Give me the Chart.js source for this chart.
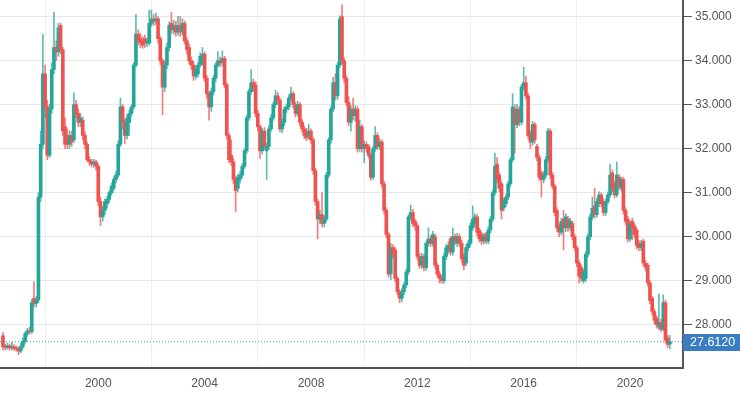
<!DOCTYPE html>
<html><head><meta charset="utf-8">
<script src="https://cdn.jsdelivr.net/npm/chart.js@4.4.0/dist/chart.umd.min.js"></script>
<style>html,body{margin:0;padding:0;background:#fff;overflow:hidden}#wrap{width:740px;height:394px;position:relative}</style>
</head><body><div id="wrap"><canvas id="c" width="740" height="394"></canvas></div>
<script>
// Monthly candles, first candle = June 1996
const firstMonth = { year: 1996, month: 6 };

const openP = [
  27.75,27.50,27.48,27.52,27.47,27.50,27.46,27.45,27.40,27.50,27.62,27.80,
  27.86,27.84,28.60,28.48,28.56,30.90,32.10,33.70,32.95,31.85,32.90,33.80,
  34.30,34.20,34.80,34.25,32.50,32.30,32.10,32.30,32.20,33.00,32.80,32.60,
  32.65,32.30,32.10,31.75,31.70,31.65,31.70,31.60,30.80,30.45,30.60,30.75,
  30.85,31.00,31.10,31.30,31.40,32.10,32.95,32.60,32.30,32.60,32.80,32.95,
  33.90,34.60,34.50,34.45,34.50,34.40,34.40,34.85,34.95,34.90,34.95,34.50,
  34.00,33.40,33.90,34.30,34.85,34.70,34.80,34.65,34.80,34.65,34.85,34.45,
  34.30,34.00,33.90,33.65,33.70,33.90,33.95,34.15,33.60,33.25,32.95,33.30,
  33.60,33.90,34.00,33.95,34.05,33.45,32.30,31.85,31.70,31.30,31.10,31.30,
  31.40,31.60,31.95,32.70,33.30,33.50,33.45,32.80,32.50,31.95,32.40,31.95,
  32.05,32.45,32.70,33.00,33.20,33.10,32.45,32.60,32.90,32.95,33.15,33.25,
  33.00,32.80,33.00,32.60,32.45,32.40,32.30,32.40,32.20,31.50,30.80,30.40,
  30.50,30.30,30.40,31.40,32.20,32.90,33.50,33.20,33.90,35.00,34.00,33.60,
  33.05,32.60,32.90,32.75,32.90,32.00,32.50,32.00,32.10,32.05,31.85,31.35,
  32.00,32.30,32.05,32.15,31.20,30.60,30.05,29.15,29.75,29.70,29.05,28.75,
  28.60,28.75,28.90,29.20,30.45,30.55,30.35,30.25,29.55,29.35,29.55,29.30,
  29.85,29.95,29.85,30.00,29.35,29.15,29.05,29.00,29.55,29.70,29.95,29.65,
  30.00,29.85,30.00,29.85,29.55,29.40,29.75,29.85,30.20,30.30,30.45,30.15,
  30.05,29.90,30.05,29.90,30.15,30.40,31.00,31.65,31.40,31.20,30.65,30.75,
  30.90,31.20,31.75,32.90,32.55,32.90,32.60,33.40,33.50,33.20,32.35,32.15,
  32.55,32.05,31.80,31.45,31.30,31.40,31.75,32.40,31.40,31.15,30.60,30.25,
  30.10,30.40,30.20,30.40,30.20,30.30,30.00,29.75,29.40,29.30,29.00,29.05,
  29.60,30.00,30.45,30.70,30.50,30.75,30.95,30.80,30.55,30.80,30.95,31.45,
  31.20,30.95,31.35,31.10,31.30,30.60,30.40,29.95,30.35,30.25,30.15,29.85,
  29.75,29.90,29.40,29.35,28.95,28.60,28.30,28.15,27.95,28.05,27.90,28.50,
  27.70,27.56
];
const highP = [
  27.82,27.56,27.58,27.56,27.60,27.55,27.52,27.50,27.58,27.70,27.84,27.92,
  27.95,28.58,28.98,28.64,31.00,32.40,34.60,33.90,33.10,33.00,33.95,35.10,
  34.45,34.85,34.85,34.30,32.70,32.45,32.40,32.40,33.27,33.10,32.90,32.80,
  32.72,32.38,32.15,31.82,31.76,31.76,31.74,31.65,30.90,30.70,30.86,30.92,
  31.05,31.22,31.36,31.48,32.18,33.15,33.00,32.66,32.78,32.88,33.00,33.96,
  35.05,34.70,34.62,34.55,34.58,34.52,35.15,35.15,35.05,35.08,35.00,34.55,
  34.05,34.00,34.40,34.88,35.10,34.92,34.90,35.00,35.00,34.95,34.90,34.52,
  34.38,34.08,33.98,33.88,33.96,34.18,34.30,34.20,33.66,33.30,33.38,33.66,
  33.96,34.20,34.08,34.22,34.10,33.50,32.35,32.20,31.78,31.38,31.42,31.48,
  31.66,32.00,32.76,33.36,33.80,33.58,33.52,32.88,32.55,32.46,32.48,32.12,
  32.52,32.78,33.06,33.33,33.28,33.15,32.68,32.96,33.02,33.22,33.40,33.30,
  33.06,33.08,33.05,32.66,32.52,32.46,32.55,32.45,32.25,31.56,30.86,30.60,
  31.00,30.48,31.46,32.26,32.96,33.62,33.70,33.96,35.02,35.27,34.06,33.66,
  33.18,32.98,33.15,32.98,32.96,32.65,32.55,32.18,32.16,32.10,31.90,32.06,
  32.50,32.36,32.22,32.20,31.25,30.66,30.10,29.85,29.82,29.76,29.10,28.80,
  28.82,28.96,29.26,30.50,30.72,30.62,30.40,30.30,29.62,29.62,29.60,29.90,
  30.20,30.02,30.12,30.06,29.40,29.22,29.12,29.62,29.82,29.88,30.00,30.20,
  30.06,30.08,30.06,29.92,29.62,29.82,29.92,30.32,30.70,30.52,30.50,30.20,
  30.10,30.08,30.10,30.22,30.46,31.06,31.90,31.80,31.46,31.25,30.88,30.96,
  31.26,31.80,33.25,33.00,33.00,32.96,33.46,33.85,33.65,33.26,32.40,32.62,
  32.60,32.10,31.86,31.50,31.48,31.82,32.46,32.45,31.46,31.20,30.66,30.30,
  30.42,30.60,30.52,30.46,30.42,30.36,30.06,29.80,29.46,29.36,29.26,29.66,
  30.06,30.52,30.90,31.10,30.88,31.02,31.00,30.86,30.86,31.02,31.65,31.52,
  31.25,31.70,31.42,31.36,31.35,30.66,30.46,30.36,30.42,30.30,30.20,29.92,
  29.92,29.95,29.46,29.40,29.00,28.65,28.36,28.20,28.70,28.12,28.68,28.56,
  27.76,27.75
];
const lowP = [
  27.42,27.42,27.44,27.42,27.43,27.41,27.40,27.32,27.36,27.46,27.58,27.74,
  27.78,27.80,28.40,28.40,28.50,30.80,32.00,32.70,31.75,31.80,32.80,33.70,
  34.00,34.10,34.15,32.30,32.00,32.00,32.00,32.05,32.15,32.70,32.50,32.50,
  32.20,32.00,31.70,31.62,31.58,31.58,31.52,30.70,30.25,30.35,30.50,30.65,
  30.78,30.95,31.05,31.22,31.35,32.05,32.45,32.12,32.22,32.30,32.74,32.90,
  33.85,34.35,34.30,34.28,34.30,34.32,34.35,34.78,34.80,34.82,34.40,33.90,
  32.77,33.30,33.82,34.22,34.62,34.60,34.55,34.58,34.55,34.58,34.38,34.15,
  33.92,33.80,33.55,33.58,33.62,33.85,33.90,33.52,33.15,32.65,32.85,33.22,
  33.52,33.85,33.86,33.88,33.38,32.22,31.68,31.62,31.20,30.57,31.02,31.22,
  31.34,31.55,31.90,32.64,33.24,33.30,32.72,32.40,31.78,31.88,31.98,31.30,
  31.98,32.40,32.64,32.94,33.02,32.38,32.36,32.52,32.82,32.88,33.08,32.92,
  32.72,32.74,32.52,32.38,32.22,32.18,32.22,32.12,31.42,30.72,29.95,30.30,
  30.22,30.22,30.35,31.34,32.12,32.84,33.10,33.12,33.84,33.92,33.50,32.98,
  32.52,32.40,32.66,32.62,31.92,31.94,31.92,31.68,31.92,31.78,31.28,31.30,
  31.94,31.98,31.98,31.12,30.52,29.98,29.08,29.02,29.50,28.98,28.68,28.50,
  28.52,28.68,28.84,29.14,30.38,30.22,30.15,29.48,29.28,29.28,29.22,29.24,
  29.78,29.78,29.78,29.28,29.08,28.95,28.94,28.94,29.48,29.62,29.58,29.58,
  29.82,29.78,29.78,29.42,29.25,29.34,29.68,29.80,30.14,30.24,30.02,29.88,
  29.82,29.84,29.84,29.84,30.08,30.34,30.94,31.22,31.02,30.40,30.58,30.68,
  30.84,31.14,31.70,31.90,32.48,32.52,32.54,33.34,33.12,32.22,32.00,32.08,
  32.12,31.72,31.28,30.90,31.22,31.34,31.70,31.32,31.08,30.48,30.12,30.00,
  30.04,29.70,30.12,30.12,30.14,29.92,29.68,29.32,28.95,28.98,28.94,28.98,
  29.54,29.94,30.38,30.42,30.44,30.68,30.68,30.48,30.48,30.74,30.90,31.02,
  30.88,30.90,31.08,31.04,30.52,30.28,29.88,29.90,29.93,29.98,29.72,29.68,
  29.68,29.34,29.22,28.88,28.48,28.22,28.02,27.92,27.88,27.84,27.86,27.58,
  27.48,27.45
];
const closeP = [
  27.50,27.48,27.52,27.47,27.50,27.46,27.45,27.40,27.50,27.62,27.80,27.86,
  27.84,28.50,28.48,28.56,30.90,32.10,33.70,32.95,31.85,32.90,33.80,34.30,
  34.20,34.75,34.25,32.40,32.10,32.10,32.30,32.15,33.00,32.80,32.60,32.70,
  32.30,32.10,31.75,31.70,31.65,31.70,31.60,30.80,30.45,30.60,30.80,30.85,
  31.00,31.15,31.30,31.40,32.10,32.95,32.60,32.30,32.70,32.80,32.95,33.90,
  34.60,34.45,34.40,34.35,34.40,34.45,34.85,34.95,34.90,34.95,34.50,34.00,
  33.40,33.90,34.30,34.80,34.70,34.80,34.65,34.80,34.65,34.85,34.45,34.25,
  34.00,33.90,33.65,33.80,33.90,34.10,34.15,33.60,33.25,32.95,33.30,33.60,
  33.90,34.00,33.95,34.05,33.45,32.30,31.75,31.70,31.30,31.05,31.35,31.40,
  31.60,31.95,32.70,33.30,33.50,33.40,32.80,32.50,31.95,32.40,32.05,32.05,
  32.45,32.70,33.00,33.20,33.10,32.45,32.60,32.90,32.95,33.15,33.25,33.00,
  32.80,33.00,32.60,32.45,32.30,32.25,32.40,32.20,31.50,30.80,30.40,30.50,
  30.30,30.40,31.40,32.20,32.90,33.50,33.20,33.90,34.95,34.00,33.60,33.05,
  32.60,32.90,32.75,32.90,32.00,32.50,32.00,32.10,32.00,31.85,31.35,32.00,
  32.30,32.05,32.15,31.20,30.60,30.05,29.15,29.75,29.60,29.05,28.75,28.60,
  28.75,28.90,29.20,30.45,30.55,30.30,30.25,29.55,29.35,29.55,29.30,29.85,
  29.95,29.85,30.05,29.35,29.15,29.05,29.00,29.55,29.75,29.80,29.65,30.00,
  29.90,30.00,29.85,29.50,29.35,29.75,29.85,30.25,30.40,30.45,30.10,29.95,
  29.90,30.00,29.90,30.15,30.40,31.00,31.60,31.30,31.10,30.60,30.80,30.90,
  31.20,31.75,32.95,32.55,32.90,32.60,33.40,33.50,33.20,32.30,32.15,32.55,
  32.20,31.80,31.35,31.30,31.40,31.75,32.40,31.40,31.15,30.55,30.20,30.10,
  30.35,30.20,30.45,30.20,30.35,30.00,29.75,29.40,29.10,29.05,29.20,29.60,
  30.00,30.45,30.65,30.50,30.80,30.95,30.75,30.55,30.80,30.95,31.40,31.10,
  30.95,31.40,31.15,31.30,30.60,30.35,29.95,30.30,30.20,30.05,29.80,29.75,
  29.85,29.40,29.30,28.95,28.55,28.30,28.10,28.00,28.05,27.90,28.50,27.65,
  27.55,27.612
];

const yearTicks = [2000, 2004, 2008, 2012, 2016, 2020];
const priceTicks = [28, 29, 30, 31, 32, 33, 34, 35];

const UP = '#26a69a', DOWN = '#ef5350';
const UP_W = 'rgba(38,166,154,0.75)', DOWN_W = 'rgba(239,83,80,0.75)';
const X_MIN = -1.35, X_MAX = 306.9, Y_MIN = 27.016, Y_MAX = 35.379;
const FONT = { family: "'Liberation Sans', Arial, sans-serif", size: 12 };
const lastPrice = closeP[closeP.length - 1];

function monthIndex(year) { return (year - firstMonth.year) * 12 - (firstMonth.month - 1); }

const bodies = closeP.map((c, i) => ({ x: i, y: [openP[i], c] }));
const wicks = closeP.map((c, i) => ({ x: i, y: [lowP[i], highP[i]] }));
const bodyColors = closeP.map((c, i) => c >= openP[i] ? UP : DOWN);
const wickColors = closeP.map((c, i) => c >= openP[i] ? UP_W : DOWN_W);

const priceLabel = {
  id: 'priceLabel',
  afterDraw(chart) {
    const ctx = chart.ctx, y = chart.scales.y.getPixelForValue(lastPrice);
    const left = chart.chartArea.right;
    ctx.save();
    ctx.fillStyle = '#3b7dc2';
    ctx.fillRect(left, Math.round(y) - 8, chart.width - left, 17);
    ctx.fillStyle = '#ffffff';
    ctx.font = "12.5px 'Liberation Sans', Arial, sans-serif";
    ctx.textBaseline = 'middle';
    ctx.textAlign = 'left';
    ctx.fillText(lastPrice.toFixed(4), left + 7, Math.round(y) + 1);
    ctx.restore();
  }
};

new Chart(document.getElementById('c'), {
  type: 'bar',
  data: {
    datasets: [
      { type: 'line', data: [{ x: X_MIN, y: lastPrice }, { x: X_MAX, y: lastPrice }],
        borderColor: UP, borderWidth: 1, borderDash: [1, 2], pointRadius: 0, order: 0 },
      { data: bodies, backgroundColor: bodyColors, borderWidth: 0, barThickness: 3,
        minBarLength: 1, grouped: false, order: 1 },
      { data: wicks, backgroundColor: wickColors, borderWidth: 0, barThickness: 1,
        grouped: false, order: 2 }
    ]
  },
  options: {
    responsive: false, animation: false, devicePixelRatio: 1,
    layout: { padding: 0 },
    plugins: { legend: { display: false }, tooltip: { enabled: false } },
    scales: {
      x: {
        type: 'linear', min: X_MIN, max: X_MAX, offset: false,
        grid: { color: '#f0f0f0', drawTicks: false },
        border: { color: '#555555', width: 2 },
        ticks: { padding: 8, color: '#555555', font: FONT, maxRotation: 0,
          callback: v => String(Math.round(firstMonth.year + (v + firstMonth.month - 1) / 12)) },
        afterBuildTicks: s => { s.ticks = yearTicks.map(y => ({ value: monthIndex(y) })); },
        afterFit: s => { s.height = 26; s.paddingLeft = 0; s.paddingRight = 0; }
      },
      y: {
        position: 'right', min: Y_MIN, max: Y_MAX,
        grid: { color: '#e8e8e8', tickColor: '#555555', tickLength: 9 },
        border: { color: '#555555', width: 2 },
        ticks: { padding: 3, color: '#555555', font: FONT, callback: v => Number(v).toFixed(3) },
        afterBuildTicks: s => { s.ticks = priceTicks.map(v => ({ value: v })); },
        afterFit: s => { s.width = 57; s.paddingTop = 0; s.paddingBottom = 0; }
      }
    }
  },
  plugins: [priceLabel]
});
</script></body></html>
